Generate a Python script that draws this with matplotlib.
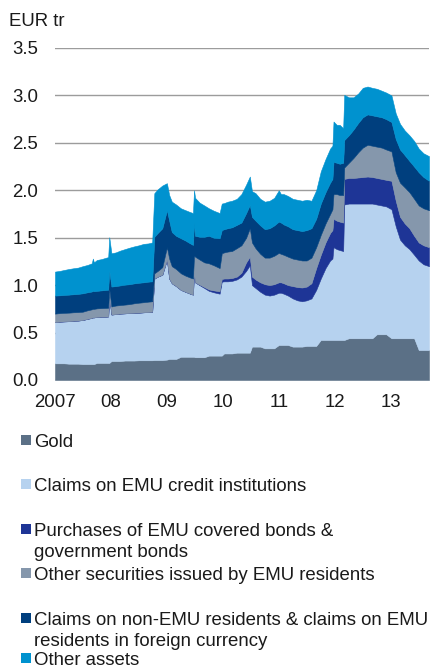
import matplotlib
matplotlib.use("Agg")
import matplotlib.pyplot as plt
from matplotlib.patches import Rectangle
import pandas as pd

plt.rcParams['font.family'] = ['Liberation Sans', 'DejaVu Sans']

dates = [
    "2007-01-01", "2007-02-01", "2007-03-01", "2007-04-01", "2007-05-01", "2007-06-01",
    "2007-07-01", "2007-08-01", "2007-08-29", "2007-09-05", "2007-09-12", "2007-10-01",
    "2007-11-01", "2007-12-01", "2007-12-14", "2007-12-21", "2008-01-04", "2008-02-01",
    "2008-03-01", "2008-04-01", "2008-05-01", "2008-06-01", "2008-07-01", "2008-08-01",
    "2008-09-01", "2008-09-26", "2008-10-10", "2008-11-01", "2008-12-01", "2008-12-31",
    "2009-01-15", "2009-02-01", "2009-03-01", "2009-04-01", "2009-05-01", "2009-06-01",
    "2009-06-19", "2009-06-26", "2009-07-03", "2009-08-01", "2009-09-01", "2009-10-01",
    "2009-11-01", "2009-12-10", "2009-12-24", "2010-01-08", "2010-02-01", "2010-03-01",
    "2010-04-01", "2010-05-01", "2010-06-01", "2010-06-25", "2010-07-09", "2010-08-01",
    "2010-09-01", "2010-10-01", "2010-11-01", "2010-12-01", "2010-12-31", "2011-01-14",
    "2011-02-01", "2011-03-01", "2011-04-01", "2011-05-01", "2011-06-01", "2011-07-01",
    "2011-08-01", "2011-09-01", "2011-10-01", "2011-11-01", "2011-12-01", "2011-12-16",
    "2011-12-23", "2012-01-13", "2012-02-01", "2012-02-24", "2012-03-02", "2012-04-01",
    "2012-05-01", "2012-06-01", "2012-07-01", "2012-08-01", "2012-09-01", "2012-10-01",
    "2012-11-01", "2012-12-01", "2013-01-04", "2013-02-01", "2013-03-01", "2013-04-01",
    "2013-05-01", "2013-06-01", "2013-07-01", "2013-08-01", "2013-09-06",
]

gold = [
    .176, .176, .176, .172, .172, .172, .168, .168, .168, .168, .168, .18,
    .18, .18, .18, .18, .20, .20, .20, .205, .205, .205, .208, .208,
    .208, .208, .21, .21, .21, .215, .222, .222, .222, .245, .245, .245,
    .245, .245, .24, .24, .24, .257, .257, .257, .257, .28, .28, .28,
    .288, .288, .288, .288, .352, .352, .352, .334, .334, .334, .369, .369,
    .369, .369, .352, .352, .352, .359, .359, .359, .422, .422, .422, .422,
    .422, .422, .422, .422, .422, .44, .44, .44, .44, .44, .44, .482,
    .482, .482, .44, .44, .44, .44, .44, .44, .316, .316, .316,
]

claims_credit = [
    .434, .439, .442, .448, .453, .455, .465, .477, .487, .492, .492, .485,
    .488, .488, .49, .69, .49, .495, .50, .498, .501, .504, .502, .506,
    .508, .512, .86, .88, .90, 1.055, .848, .798, .768, .705, .685, .665,
    .655, .895, .79, .76, .73, .683, .668, .653, .78, .76, .76, .765,
    .772, .802, .862, .922, .648, .618, .578, .566, .556, .566, .551, .551,
    .541, .521, .508, .488, .478, .481, .501, .591, .648, .758, .838, .858,
    .978, .958, .948, .938, 1.428, 1.42, 1.42, 1.42, 1.42, 1.42, 1.42, 1.368,
    1.358, 1.348, 1.36, 1.18, 1.04, .98, .94, .88, .944, .904, .884,
]

bond_purchases = [
    0, 0, 0, 0, 0, 0, 0, 0, 0, 0, 0, 0,
    0, 0, 0, 0, 0, 0, 0, 0, 0, 0, 0, 0,
    0, 0, 0, 0, 0, 0, 0, 0, 0, 0, 0, 0,
    0, 0, 0, .005, .01, .015, .02, .025, .028, .03, .03, .03,
    .03, .04, .09, .09, .09, .09, .10, .11, .11, .11, .11, .11,
    .11, .11, .13, .14, .145, .145, .16, .23, .25, .27, .29, .30,
    .30, .30, .30, .30, .27, .27, .27, .275, .28, .285, .28, .28,
    .28, .28, .30, .27, .24, .23, .22, .20, .19, .20, .20,
]

other_securities = [
    .09, .09, .09, .09, .089, .089, .087, .09, .09, .09, .09, .09,
    .09, .092, .092, .092, .085, .09, .09, .092, .094, .10, .105, .106,
    .11, .11, .055, .06, .08, .13, .21, .18, .18, .175, .17, .17,
    .17, .17, .27, .265, .26, .275, .265, .245, .271, .275, .284, .285,
    .30, .29, .26, .30, .36, .33, .30, .28, .29, .30, .31, .30,
    .30, .30, .29, .29, .285, .275, .27, .22, .21, .20, .20, .22,
    .26, .28, .28, .29, .12, .16, .21, .265, .31, .335, .33, .33,
    .33, .32, .31, .30, .36, .38, .38, .39, .39, .39, .39,
]

non_emu_claims = [
    .19, .188, .189, .19, .19, .192, .194, .19, .188, .19, .187, .185,
    .187, .19, .19, .19, .21, .205, .207, .21, .21, .21, .21, .21,
    .211, .21, .385, .40, .41, .39, .40, .36, .35, .369, .37, .36,
    .354, .35, .22, .24, .27, .29, .29, .314, .244, .245, .246, .25,
    .245, .24, .26, .246, .27, .29, .30, .30, .31, .32, .33, .33,
    .32, .32, .31, .31, .31, .32, .31, .30, .33, .33, .33, .32,
    .34, .33, .33, .34, .29, .29, .30, .31, .32, .32, .32, .32,
    .32, .32, .31, .35, .35, .34, .33, .34, .35, .33, .31,
]

other_assets = [
    .253, .257, .263, .27, .274, .277, .286, .288, .297, .34, .303, .325,
    .33, .34, .343, .353, .351, .355, .367, .375, .385, .39, .395, .405,
    .403, .41, .46, .46, .45, .285, .27, .32, .33, .316, .32, .33,
    .336, .34, .40, .36, .33, .29, .285, .266, .28, .275, .28, .28,
    .275, .30, .30, .299, .27, .29, .28, .29, .29, .29, .33, .30,
    .32, .32, .32, .32, .32, .32, .29, .30, .34, .35, .36, .35,
    .425, .40, .41, .365, .476, .40, .34, .31, .31, .294, .29, .29,
    .28, .28, .28, .27, .27, .26, .27, .27, .25, .25, .26,
]

labels = [
    "Gold",
    "Claims on EMU credit institutions",
    "Purchases of EMU covered bonds &\ngovernment bonds",
    "Other securities issued by EMU residents",
    "Claims on non-EMU residents & claims on EMU\nresidents in foreign currency",
    "Other assets",
]
colors = ["#5b7086", "#b6d2ef", "#1e3596", "#8597ac", "#003f7e", "#0092cf"]

yticks = [0.0, 0.5, 1.0, 1.5, 2.0, 2.5, 3.0, 3.5]
year_ticks = ["2007-01-01", "2008-01-01", "2009-01-01", "2010-01-01",
              "2011-01-01", "2012-01-01", "2013-01-01"]
year_labels = ["2007", "08", "09", "10", "11", "12", "13"]

W, H = 430, 670
FS = 13.4
fig = plt.figure(figsize=(W / 100, H / 100), dpi=100)
ax = fig.add_axes([55 / W, 1 - 380 / H, 374 / W, 332 / H])

x = pd.to_datetime(dates)
series = [gold, claims_credit, bond_purchases, other_securities, non_emu_claims, other_assets]
ax.stackplot(x, *series, colors=colors, linewidth=0.4, edgecolor='face', zorder=2)

ax.set_ylim(0, 3.5)
ax.set_xlim(pd.Timestamp("2007-01-01"), x[-1])
ax.set_yticks(yticks)
ax.set_yticklabels([f"{v:.1f}" for v in yticks])
ax.set_xticks(pd.to_datetime(year_ticks))
ax.set_xticklabels(year_labels)
for v in yticks:
    ax.axhline(v, color="#9c9c9c", lw=1.0, zorder=1)
for s in ax.spines.values():
    s.set_visible(False)
ax.tick_params(axis='y', length=0, pad=12, labelsize=FS, labelcolor="#1a1a1a")
ax.tick_params(axis='x', length=0, pad=10, labelsize=FS, labelcolor="#1a1a1a")

fig.text(9 / W, 1 - 26 / H, "EUR tr", fontsize=FS, color="#1a1a1a", va='baseline')

baselines = [447, 491, 536, 580, 625, 665]
for lab, col, b in zip(labels, colors, baselines):
    fig.patches.append(Rectangle((21 / W, 1 - (b - 2) / H), 10 / W, 10 / H,
                                 transform=fig.transFigure, facecolor=col,
                                 edgecolor='none'))
    for i, line in enumerate(lab.split("\n")):
        fig.text(34 / W, 1 - (b + 21 * i) / H, line, fontsize=FS,
                 color="#1a1a1a", va='baseline')

fig.savefig("out.png", dpi=100)
